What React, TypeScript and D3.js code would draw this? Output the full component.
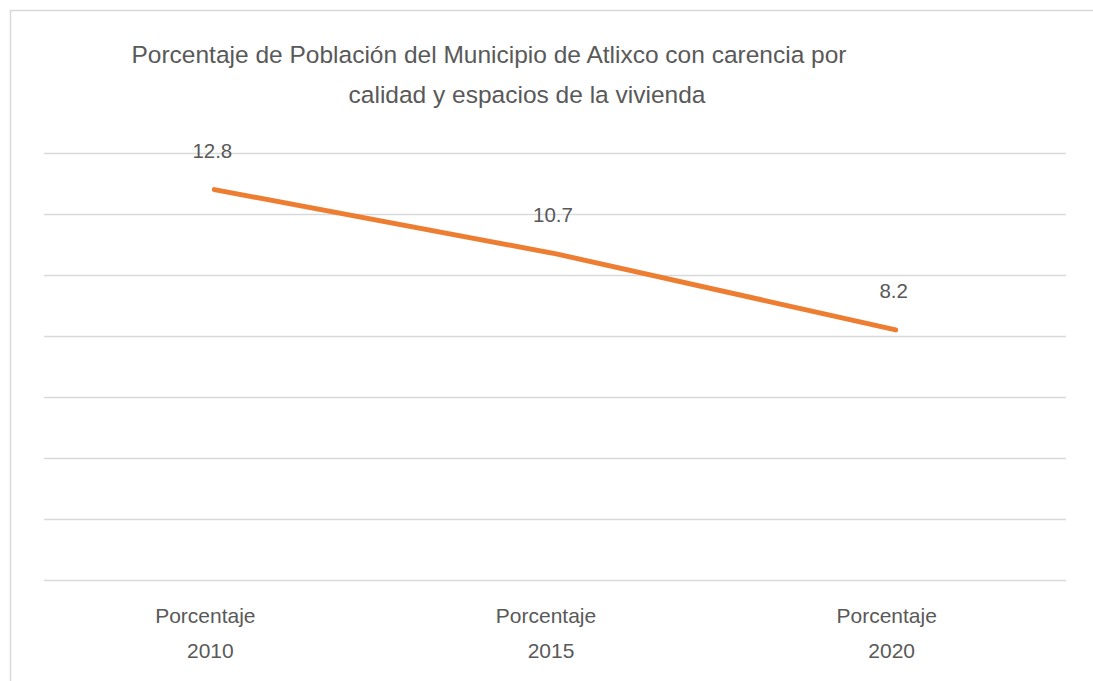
import React from 'react'
import * as d3 from 'd3'

// chart data
const years = ['2010', '2015', '2020']
const categoryPrefix = 'Porcentaje'
const values = [12.8, 10.7, 8.2]
const yTicks = [0, 2, 4, 6, 8, 10, 12, 14]
const titleLines = [
  'Porcentaje de Población del Municipio de Atlixco con carencia por',
  'calidad y espacios de la vivienda'
]

const width = 1093
const height = 681
const font = '"Liberation Sans", Arial, sans-serif'
const textColor = '#595959'
const gridColor = '#D9D9D9'
const lineColor = '#ED7D31'

export default function App () {
  const x = d3.scaleBand<string>().domain(years).range([44, 1066])
  const y = d3.scaleLinear().domain([0, 14]).range([580, 153])
  const cx = (yr: string) => (x(yr) as number) + x.bandwidth() / 2

  const line = d3.line<number>()
    .x((d, i) => cx(years[i]))
    .y(d => y(d))

  return (
    <svg width={width} height={height} style={{ position: 'absolute', left: 0, top: 0 }}>
      <rect x={10.5} y={10.5} width={1090} height={690} fill='#fff' stroke={gridColor} strokeWidth={1.5} />

      {titleLines.map((t, i) => (
        <text key={i} x={i === 0 ? 489 : 527} y={63 + i * 40} textAnchor='middle'
          fontFamily={font} fontSize={24.5} fill={textColor}>{t}</text>
      ))}

      {yTicks.map(t => (
        <line key={t} x1={44} x2={1066} y1={Math.round(y(t)) + 0.5} y2={Math.round(y(t)) + 0.5}
          stroke={gridColor} strokeWidth={1.5} />
      ))}

      <path d={line(values) || ''} fill='none' stroke={lineColor} strokeWidth={5} strokeLinecap='round' strokeLinejoin='round' />

      {values.map((v, i) => (
        <text key={i} x={cx(years[i]) - 2} y={y(v) - 32}
          textAnchor='middle' fontFamily={font} fontSize={20.5} fill={textColor}>{v.toFixed(1)}</text>
      ))}

      {years.map(yr => (
        <g key={yr} transform={'translate(' + cx(yr) + ',0)'}>
          <text x={-9} y={623} textAnchor='middle' fontFamily={font} fontSize={21} fill={textColor}>{categoryPrefix}</text>
          <text x={-4} y={658} textAnchor='middle' fontFamily={font} fontSize={21} fill={textColor}>{yr}</text>
        </g>
      ))}
    </svg>
  )
}
